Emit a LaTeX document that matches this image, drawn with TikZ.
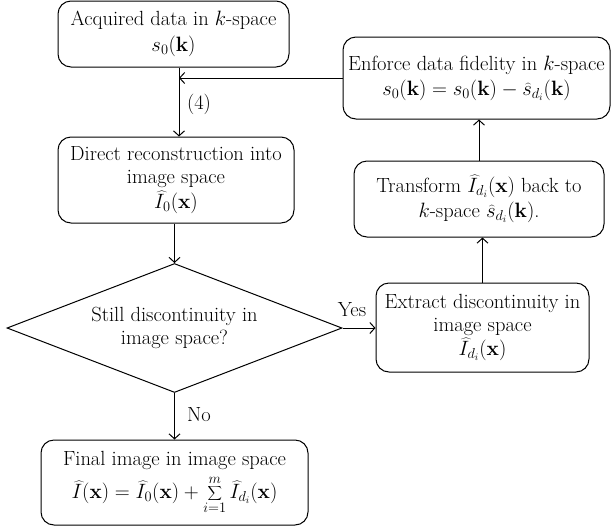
\documentclass[tikz,border=0pt]{standalone}
\usetikzlibrary{arrows.meta,shapes.geometric}
\begin{document}
\begin{tikzpicture}[x=1pt,y=-1pt,
  box/.style={draw,line width=1pt,rounded corners=13pt,align=center,inner sep=1pt,
    font=\fontsize{20.5}{23}\selectfont},
  arr/.style={draw,line width=1pt,-{Straight Barb[length=5pt,width=11pt]}},
  lbl/.style={font=\fontsize{20.5}{23}\selectfont,inner sep=0pt}]
\useasboundingbox (0,0) rectangle (611,531);
\node[box,minimum width=231pt,minimum height=66pt] (acq) at (173.5,34)
  {Acquired data in $k$-space\\[3pt] $s_0(\mathbf{k})$};
\node[box,minimum width=236pt,minimum height=86pt] (dir) at (176,180)
  {Direct reconstruction into\\ image space\\[2pt] $\widehat{I}_0(\mathbf{x})$};
\node[box,minimum width=267pt,minimum height=82pt] (enf) at (476.5,78)
  {Enforce data fidelity in $k$-space\\[2pt] $s_0(\mathbf{k}) = s_0(\mathbf{k}) - \widehat{s}_{d_i}(\mathbf{k})$};
\node[box,minimum width=250pt,minimum height=76pt] (tra) at (479,199)
  {Transform $\widehat{I}_{d_i}(\mathbf{x})$ back to\\[2pt] $k$-space $\widehat{s}_{d_i}(\mathbf{k})$.};
\node[box,minimum width=213pt,minimum height=89pt] (ext) at (482.5,327.5)
  {Extract discontinuity in\\ image space\\[1pt] $\widehat{I}_{d_i}(\mathbf{x})$};
\node[draw,line width=1pt,diamond,aspect=2.6,minimum width=335pt,minimum height=129pt,inner sep=0pt] (dia) at (174.5,328) {};
\node[lbl,align=center] (diat) at (dia.center) {Still discontinuity in\\ image space?};
\node[box,minimum width=267pt,minimum height=85pt,inner sep=0pt] (fin) at (174.5,482.5)
  {Final image in image space\\[5pt] $\displaystyle\widehat{I}(\mathbf{x}) = \widehat{I}_0(\mathbf{x}) + \sum_{i=1}^{m}\widehat{I}_{d_i}(\mathbf{x})$};
\coordinate (j) at (179,79);
\draw[arr] (acq.south -| j) -- (dir.north -| j);
\draw[arr] (enf.west) -- (enf.west -| j);
\node[lbl] (l4) at (199,104) {(4)};
\draw[arr] (dir.south -| dia.north) -- (dia.north);
\draw[arr] (dia.east) -- (ext.west |- dia.east);
\node[lbl] (lyes) at (352,310) {Yes};
\draw[arr] (ext.north) -- (ext.north |- tra.south);
\draw[arr] (tra.north) -- (tra.north |- enf.south);
\draw[arr] (dia.south) -- (fin.north -| dia.south);
\node[lbl] (lno) at (199,415) {No};
\end{tikzpicture}
\end{document}
